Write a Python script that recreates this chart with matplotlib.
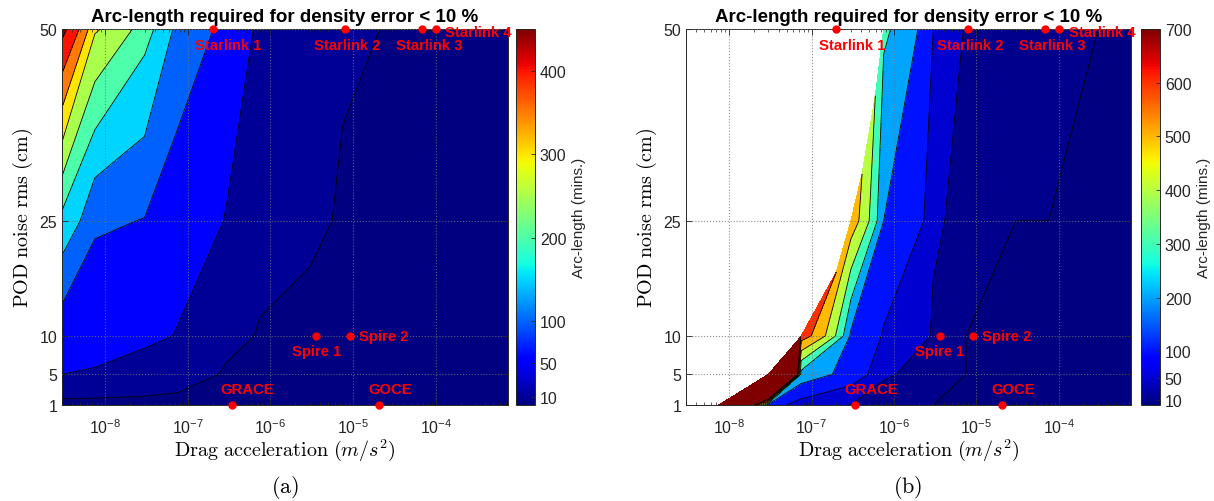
import numpy as np
import matplotlib
matplotlib.use("Agg")
import matplotlib.pyplot as plt
from matplotlib import ticker, colors as mcolors

plt.rcParams["font.family"] = ["Liberation Sans", "DejaVu Sans"]
plt.rcParams["mathtext.fontset"] = "custom"
plt.rcParams["mathtext.rm"] = "Liberation Sans"
plt.rcParams["mathtext.it"] = "Liberation Sans:italic"
plt.rcParams["mathtext.bf"] = "Liberation Sans:bold"

# grid of the study
drag = np.array([3e-9, 7.5e-9, 3e-8, 7.5e-8, 3e-7, 7.5e-7,
                 3e-6, 7.5e-6, 3e-5, 7.5e-5, 3e-4, 7.5e-4])
noise = np.array([1, 5, 10, 25, 50])

# arc-length (mins) needed, rows = noise, cols = drag
arc_a = np.array([
    [0, 0, 0, 0, 0, 0, 0, 0, 0, 0, 0, 0],
    [50, 45, 35, 25, 4, 3, 3, 3, 3, 3, 3, 3],
    [68, 73, 57, 48, 22, 6, 4, 4, 4, 4, 4, 4],
    [185, 105, 98, 70, 47, 30, 14, 7, 6, 6, 6, 6],
    [465, 305, 216, 133, 75, 40, 20, 13, 8, 7, 6, 6],
])
nan = np.nan
arc_b = np.array([
    [nan, 1500, 130, 60, 49, 30, 10, 8, 8, 8, 8, 8],
    [nan, nan, 3000, 260, 130, 55, 20, 10, 8, 8, 8, 8],
    [nan, nan, nan, 650, 180, 90, 45, 10, 8, 8, 8, 8],
    [nan, nan, nan, nan, 560, 200, 55, 35, 10, 10, 8, 8],
    [nan, nan, nan, nan, nan, 315, 100, 43, 25, 15, 10, 8],
])

levels_a = [0, 10, 50, 100, 150, 200, 250, 300, 350, 400, 450]
levels_b = [0, 10, 50, 100, 200, 300, 400, 500, 600, 700]
cbar_ticks_a = [10, 50, 100, 200, 300, 400]
cbar_ticks_b = [10, 50, 100, 200, 300, 400, 500, 600, 700]

# satellites
sat_names = ["Starlink 1", "Starlink 2", "Starlink 3", "Starlink 4",
             "Spire 1", "Spire 2", "GRACE", "GOCE"]
sat_drag = [2e-7, 8e-6, 6.8e-5, 1e-4, 3.6e-6, 9.2e-6, 3.4e-7, 2.07e-5]
sat_noise = [50, 50, 50, 50, 10, 10, 1, 1]
# label offset (points) and alignment
sat_offsets = [(11.5, -11.5, "center"), (1.5, -11.5, "center"), (5, -11.5, "center"),
               (7, -2, "left"), (0, -11, "center"), (6.5, 0, "left"),
               (11.5, 11.5, "center"), (8, 11.5, "center")]

W, H = 1214, 502
fig = plt.figure(figsize=(W / 100, H / 100), dpi=100)

dark = (0.15, 0.15, 0.15)
jet = plt.get_cmap("jet")


def panel(ax_rect, cax_rect, z, levels, vmax, cticks, caption, cap_x):
    ax = fig.add_axes(ax_rect)
    cax = fig.add_axes(cax_rect)
    zm = np.ma.masked_invalid(z)
    lv = list(levels) + [np.nanmax(z) + 1]
    fills = [jet(l / vmax) for l in levels]
    ax.contourf(drag, noise, zm, levels=lv, colors=fills, zorder=1)
    ax.contour(drag, noise, zm, levels=levels[1:], colors="k",
               linewidths=0.6, zorder=1.5)

    ax.set_xscale("log")
    ax.set_xlim(3e-9, 7.5e-4)
    ax.set_ylim(1, 50)
    ax.set_xticks([1e-8, 1e-7, 1e-6, 1e-5, 1e-4])
    ax.xaxis.set_minor_locator(ticker.LogLocator(base=10, subs=np.arange(2, 10), numticks=20))
    ax.xaxis.set_minor_formatter(ticker.NullFormatter())
    ax.xaxis.set_major_formatter(ticker.FuncFormatter(
        lambda v, p: r"$\mathregular{10^{%d}}$" % round(np.log10(v))))
    ax.set_yticks([1, 5, 10, 25, 50])
    ax.tick_params(which="both", direction="in", top=True, right=True,
                   colors=dark, labelsize=11.5)
    ax.tick_params(which="major", length=4, width=0.6)
    ax.tick_params(which="minor", length=2.2, width=0.5)
    ax.tick_params(axis="x", pad=9)
    ax.set_axisbelow(False)
    ax.grid(True, which="major", linestyle=":", color="0.45", linewidth=0.8, alpha=0.8)
    for s in ax.spines.values():
        s.set_color(dark)
        s.set_linewidth(0.7)

    ax.plot(sat_drag, sat_noise, "o", color="red", ms=5, clip_on=False, zorder=5)
    for name, x, y, (dx, dy, ha) in zip(sat_names, sat_drag, sat_noise, sat_offsets):
        ax.annotate(name, (x, y), xytext=(dx, dy), textcoords="offset points",
                    ha=ha, va="center", color="red", fontweight="bold",
                    fontsize=10.7, annotation_clip=False, zorder=6)

    ax.set_title("Arc-length required for density error < 10 %",
                 fontweight="bold", fontsize=13.5, pad=6)
    ax.set_xlabel(r"$\mathrm{Drag\ acceleration}\ (m/s^2)$", math_fontfamily="cm",
                  fontsize=14.5, labelpad=0)
    ax.set_ylabel(r"$\mathrm{POD\ noise\ rms\ (cm)}$", math_fontfamily="cm",
                  fontsize=14.5, labelpad=3)

    sm = plt.cm.ScalarMappable(norm=mcolors.Normalize(0, vmax), cmap=jet)
    cb = fig.colorbar(sm, cax=cax, ticks=cticks)
    cb.set_label("Arc-length (mins.)", fontsize=11, color=dark)
    cb.ax.tick_params(direction="in", length=3, width=0.6, colors=dark, labelsize=11.5)
    cb.outline.set_edgecolor(dark)
    cb.outline.set_linewidth(0.7)

    fig.text(cap_x, 1 - 488 / H, caption, math_fontfamily="cm", fontsize=16,
             ha="center", va="center")
    return ax


panel([62 / W, 1 - 406 / H, 446 / W, 376 / H], [516 / W, 1 - 406 / H, 19 / W, 376 / H],
      arc_a, levels_a, 450, cbar_ticks_a, r"$\mathrm{(a)}$", 285 / W)
panel([686 / W, 1 - 406 / H, 445 / W, 376 / H], [1141 / W, 1 - 406 / H, 19 / W, 376 / H],
      arc_b, levels_b, 700, cbar_ticks_b, r"$\mathrm{(b)}$", 908 / W)

fig.savefig("out.png", dpi=100)
